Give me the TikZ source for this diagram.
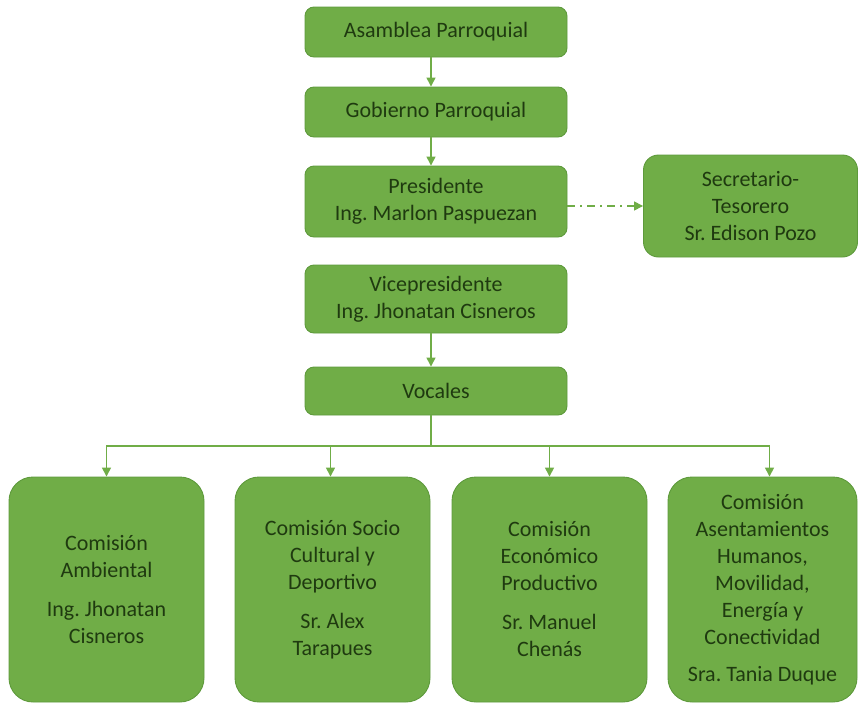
\documentclass[tikz,border=0pt]{standalone}
\usepackage{fontspec}
\setmainfont{Carlito}
\frenchspacing
\usetikzlibrary{arrows.meta}
\definecolor{boxfill}{HTML}{70AD47}
\definecolor{boxline}{HTML}{5E9A3C}
\definecolor{txt}{HTML}{1F3A10}
\definecolor{conn}{HTML}{70AD47}
\begin{document}
\begin{tikzpicture}[x=1pt,y=-1pt,
  box/.style={draw=boxline,line width=0.9pt,fill=boxfill,text=txt,align=center,
    font=\fontsize{22}{27}\selectfont,inner sep=0pt},
  topbox/.style={box,rounded corners=9pt,minimum width=262pt},
  combox/.style={box,rounded corners=24pt,minimum height=225pt},
  arr/.style={draw=conn,line width=1.4pt,-{Triangle[width=9pt,length=9pt]}},
  ln/.style={draw=conn,line width=1.4pt}]
\useasboundingbox (0,0) rectangle (859,704);
\node[topbox,minimum height=50pt] (asa) at (436,32) {Asamblea Parroquial};
\node[topbox,minimum height=50pt] (gob) at (436,112) {Gobierno Parroquial};
\node[topbox,minimum height=71pt] (pre) at (436,201.5) {Presidente\\Ing. Marlon Paspuezan};
\node[box,rounded corners=15pt,minimum width=214pt,minimum height=102pt] (sec) at (750.5,206) {Secretario-\\Tesorero\\Sr. Edison Pozo};
\node[topbox,minimum height=68pt] (vic) at (436,299) {Vicepresidente\\Ing. Jhonatan Cisneros};
\node[topbox,minimum height=48pt] (voc) at (436,391) {Vocales};
\node[combox,minimum width=195pt] (c1) at (106.5,589.5) {Comisión\\Ambiental\\[12pt]Ing. Jhonatan\\Cisneros};
\node[combox,minimum width=195pt] (c2) at (332.5,589.5) {Comisión Socio\\Cultural y\\Deportivo\\[12pt]Sr. Alex\\Tarapues};
\node[combox,minimum width=195pt] (c3) at (549.5,589.5) {Comisión\\Económico\\Productivo\\[12pt]Sr. Manuel\\Chenás};
\node[combox,minimum width=189pt] (c4) at (762.5,589.5) {Comisión\\Asentamientos\\Humanos,\\Movilidad,\\Energía y\\Conectividad\\[10pt]Sra. Tania Duque};
\draw[arr] ([xshift=-5pt]asa.south) -- ([xshift=-5pt]gob.north);
\draw[arr] ([xshift=-5pt]gob.south) -- ([xshift=-5pt]pre.north);
\draw[arr] ([xshift=-5pt]vic.south) -- ([xshift=-5pt]voc.north);
\draw[arr,dash pattern=on 8pt off 5pt on 2pt off 5pt] (pre.east |- sec.west) -- (sec.west);
\coordinate (j) at (431,446);
\draw[ln] ([xshift=-5pt]voc.south) -- (j);
\draw[arr] (j) -| (c1.north);
\draw[arr] (j) -| ([xshift=-2pt]c2.north);
\draw[arr] (j) -| (c3.north);
\draw[arr] (j) -| ([xshift=7pt]c4.north);
\end{tikzpicture}
\end{document}
